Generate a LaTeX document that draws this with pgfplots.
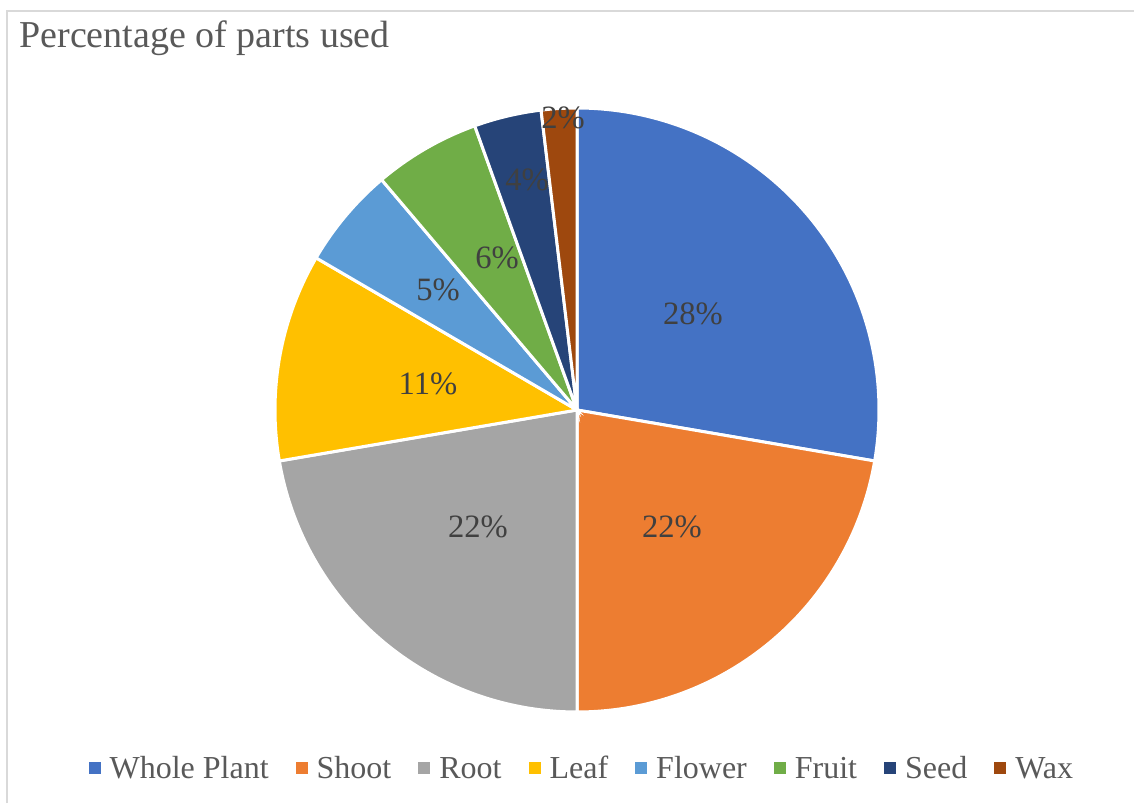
\documentclass[border=0pt]{standalone}
\usepackage{fontspec}
\setmainfont{Liberation Serif}
\usepackage{pgfplots}
\pgfplotsset{compat=1.18}
\definecolor{cA}{HTML}{4472C4}
\definecolor{cB}{HTML}{ED7D31}
\definecolor{cC}{HTML}{A5A5A5}
\definecolor{cD}{HTML}{FFC000}
\definecolor{cE}{HTML}{5B9BD5}
\definecolor{cF}{HTML}{70AD47}
\definecolor{cG}{HTML}{264478}
\definecolor{cH}{HTML}{9E480E}
\definecolor{titlecol}{HTML}{595959}
\definecolor{labcol}{HTML}{404040}
\definecolor{bordercol}{HTML}{D9D9D9}
\pgfplotsset{
  pieslice/.style={draw=white, line width=1.5pt, samples=90},
  sqlegend/.style={legend image code/.code={\fill[##1,draw=none] (0pt,-2.6pt) rectangle (6pt,3.4pt); \path[draw=none,fill=none] (0pt,0pt) -- (8.5pt,0pt);}},
}
% values (percent): Whole Plant 27.7, Shoot 22.3, Root 22.3, Leaf 11.1,
% Flower 5.4, Fruit 5.7, Seed 3.6, Wax 1.9  (clockwise from 90 deg)
\begin{document}
\begin{tikzpicture}
\begin{axis}[
  name=ax,
  width=567pt, height=401.5pt, scale only axis,
  xmin=0, xmax=1134, ymin=0, ymax=803,
  hide axis, clip=false,
  sqlegend,
  legend columns=-1,
  legend style={draw=none, fill=none, at={(0.514,0.0423)}, anchor=center,
    font=\fontsize{16}{19}\selectfont, text=titlecol,
    /tikz/every even column/.style={column sep=11.5pt},
    inner sep=0pt},
]
% frame
\draw[bordercol, line width=1pt] (axis cs:7,0) -- (axis cs:7,792) -- (axis cs:1134,792);

\addplot[pieslice, fill=cA, domain=-9.72:90] ({577+302*cos(x)},{393+302*sin(x)}) -- (axis cs:577,393) -- cycle;
\addlegendentry{Whole Plant}
\addplot[pieslice, fill=cB, domain=-90:-9.72] ({577+302*cos(x)},{393+302*sin(x)}) -- (axis cs:577,393) -- cycle;
\addlegendentry{Shoot}
\addplot[pieslice, fill=cC, domain=-170.28:-90] ({577+302*cos(x)},{393+302*sin(x)}) -- (axis cs:577,393) -- cycle;
\addlegendentry{Root}
\addplot[pieslice, fill=cD, domain=-210.24:-170.28] ({577+302*cos(x)},{393+302*sin(x)}) -- (axis cs:577,393) -- cycle;
\addlegendentry{Leaf}
\addplot[pieslice, fill=cE, domain=-229.68:-210.24] ({577+302*cos(x)},{393+302*sin(x)}) -- (axis cs:577,393) -- cycle;
\addlegendentry{Flower}
\addplot[pieslice, fill=cF, domain=-250.2:-229.68] ({577+302*cos(x)},{393+302*sin(x)}) -- (axis cs:577,393) -- cycle;
\addlegendentry{Fruit}
\addplot[pieslice, fill=cG, domain=-263.16:-250.2] ({577+302*cos(x)},{393+302*sin(x)}) -- (axis cs:577,393) -- cycle;
\addlegendentry{Seed}
\addplot[pieslice, fill=cH, domain=-270:-263.16] ({577+302*cos(x)},{393+302*sin(x)}) -- (axis cs:577,393) -- cycle;
\addlegendentry{Wax}

% title
\node[anchor=base west, text=titlecol, font=\fontsize{19}{22}\selectfont, inner sep=0pt] at (axis cs:19,755) {Percentage of parts used};

% data labels
\begin{scope}[every node/.style={text=labcol, font=\fontsize{16.3}{19}\selectfont, inner sep=0pt, anchor=center}]
\node at (axis cs:693,489) {28\%};
\node at (axis cs:672,276) {22\%};
\node at (axis cs:478,276) {22\%};
\node at (axis cs:428,419) {11\%};
\node at (axis cs:438,513) {5\%};
\node at (axis cs:497,545) {6\%};
\node at (axis cs:527,623) {4\%};
\node at (axis cs:563,685) {2\%};
\end{scope}
\end{axis}
\pgfresetboundingbox
\path (ax.south west) rectangle (ax.north east);
\end{tikzpicture}
\end{document}
